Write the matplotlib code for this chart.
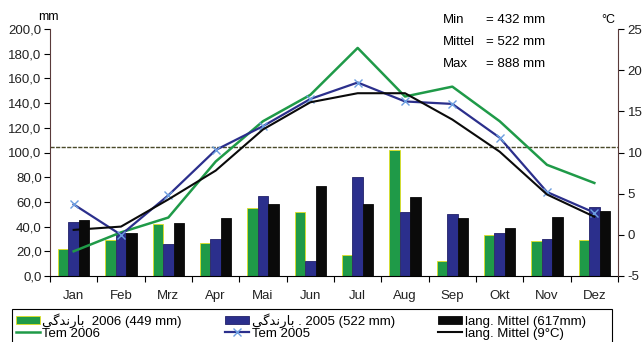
import matplotlib
matplotlib.use("Agg")
import matplotlib.pyplot as plt
from matplotlib.patches import Rectangle
import numpy as np

plt.rcParams['font.family'] = ['Liberation Sans', 'DejaVu Sans']

months = ["Jan", "Feb", "Mrz", "Apr", "Mai", "Jun", "Jul", "Aug", "Sep", "Okt", "Nov", "Dez"]

# Niederschlag (mm)
rain_2006 = [22, 29, 42, 27, 55, 52, 17, 102, 12, 33, 28, 29]
rain_2005 = [44, 35, 26, 30, 65, 12, 80, 52, 50, 35, 30, 56]
rain_mean = [45, 35, 43, 47, 58, 73, 58, 64, 47, 39, 48, 53]

# Temperatur (°C)
tem_2006 = [-2.0, 0.3, 2.1, 8.9, 13.8, 17.0, 22.7, 16.8, 18.0, 13.8, 8.5, 6.3]
tem_2005 = [3.7, 0.0, 4.8, 10.3, 13.2, 16.5, 18.5, 16.2, 15.9, 11.8, 5.2, 2.7]
tem_mean = [0.6, 1.0, 4.3, 7.8, 12.8, 16.1, 17.2, 17.2, 14.0, 10.1, 4.9, 2.2]

left_ticks = np.arange(0, 201, 20)
right_ticks = np.arange(-5, 26, 5)

# Arabisch "بارندگی" in Darstellungsformen (visuelle Reihenfolge)
barandegi = "\uFBFD\uFB94\uFEAA\uFEE7\uFEAD\uFE8E\uFE91"

fig = plt.figure(figsize=(6.42, 3.42), dpi=100)
ax = fig.add_axes([50/642, 1-276/342, 568/642, 247/342])
ax2 = ax.twinx()

x = np.arange(len(months))
w = 0.22
green, blue, black = "#1f9a48", "#2b2f8c", "#0a0a0a"
b1 = ax.bar(x - w, rain_2006, w, color=green, edgecolor="#e0e020", linewidth=0.6)
b2 = ax.bar(x, rain_2005, w, color=blue, edgecolor="#22226a", linewidth=0.6)
b3 = ax.bar(x + w, rain_mean, w, color=black, edgecolor=black, linewidth=0.6)

ax.axhline(104.5, color="#4a4a2a", lw=1.0, ls=(0, (3, 1)))

l1, = ax2.plot(x, tem_2006, color=green, lw=1.8)
l2, = ax2.plot(x, tem_2005, color=blue, lw=1.6, marker="x", ms=6, mec="#6c9ee0", mew=1.0)
l3, = ax2.plot(x, tem_mean, color=black, lw=1.5)

ax.set_xlim(-0.5, 11.5)
ax.set_ylim(0, 200)
ax2.set_ylim(-5, 25)
ax.set_yticks(left_ticks)
ax.set_yticklabels([f"{v:.1f}".replace(".", ",") for v in left_ticks], fontsize=9.5, color="#222")
ax2.set_yticks(right_ticks)
ax2.set_yticklabels([str(v) for v in right_ticks], fontsize=9.5, color="#222")

ax.set_xticks(np.arange(-0.5, 12, 1))
ax.set_xticklabels([])
ax.set_xticks(x, minor=True)
ax.set_xticklabels(months, minor=True, fontsize=9.5, color="#222")
ax.tick_params(axis="x", which="minor", length=0, pad=10)
ax.tick_params(axis="x", which="major", length=4, direction="out")
ax.tick_params(axis="y", length=4, direction="out", pad=2)
ax2.tick_params(axis="y", length=4, direction="out", pad=3)

for a in (ax, ax2):
    a.spines["top"].set_visible(False)
ax2.spines["left"].set_visible(False)
ax2.spines["bottom"].set_visible(False)
ax.spines["right"].set_visible(False)
ax.spines["left"].set_color("#5a3a3a")
ax2.spines["right"].set_color("#5a3a3a")

fig.text(48/642, 1-17/342, "mm", fontsize=9, ha="center", va="center")
fig.text(608/642, 1-20/342, "°C", fontsize=9, ha="center", va="center")

stats = [("Min", "= 432 mm"), ("Mittel", "= 522 mm"), ("Max", "= 888 mm")]
for i, (k, v) in enumerate(stats):
    yy = 1 - (20 + 22*i)/342
    fig.text(443/642, yy, k, fontsize=9.5, va="center")
    fig.text(486/642, yy, v, fontsize=9.5, va="center")

handles = [b1, l1, b2, l2, b3, l3]
labels = [barandegi + "  2006 (449 mm)", "Tem 2006",
          barandegi + " . 2005 (522 mm)", "Tem 2005",
          "lang. Mittel (617mm)", "lang. Mittel (9°C)"]
leg = fig.legend(handles, labels, ncol=3, loc="upper left",
                 bbox_to_anchor=(12/642, 1-309/342), fontsize=9.5,
                 frameon=False,
                 handlelength=1.8, handleheight=0.55, handletextpad=0.2,
                 labelspacing=0.0, columnspacing=3.3, borderpad=0.3,
                 borderaxespad=0)
# Rahmen der Legende (unten abgeschnitten)
fig.add_artist(Rectangle((12/642, -0.05), 600/642, 0.05 + 1 - 309/342,
                         transform=fig.transFigure, fill=False,
                         edgecolor="black", linewidth=0.8))

fig.savefig("out.png", dpi=100)
